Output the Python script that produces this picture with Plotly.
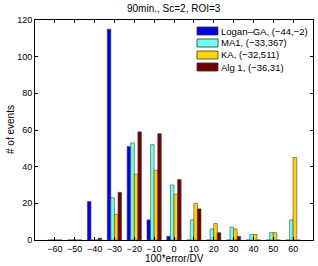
import plotly.graph_objects as go

bins = [-60, -50, -40, -30, -20, -10, 0, 10, 20, 30, 40, 50, 60]
logan = [0, 0, 21, 115, 51, 11, 2, 0, 0, 0, 0, 0, 0]
ma1 = [0, 0, 0, 23, 53, 52, 30, 11, 6, 7, 3, 4, 11]
ka = [0, 0, 0, 14, 36, 38, 25, 20, 9, 6, 3, 4, 45]
alg1 = [0, 0, 1, 26, 59, 58, 33, 17, 4, 2, 0, 0, 0]

names = ["Logan\u2013GA, (\u221244,\u22122)", "MA1, (\u221233,367)", "KA, (\u221232,511)", "Alg 1, (\u221236,31)"]
colors = ["#0000E6", "#73FFEE", "#FFD400", "#730000"]
series = [logan, ma1, ka, alg1]

W, H = 318, 266
L, R, T, B = 35, 5, 20, 26
pw, ph = W - L - R, H - T - B

def px(x):
    return (x - L) / pw

def py(y):
    return (H - B - y) / ph

fig = go.Figure()
for n, c, s in zip(names, colors, series):
    fig.add_trace(go.Bar(x=bins, y=s, name=n, showlegend=False,
                         marker=dict(color=c, line=dict(color="#444444", width=0.6))))

# custom compact legend (MATLAB style)
row_y = [31, 43, 55, 67]
for i, (n, c) in enumerate(zip(names, colors)):
    yc = row_y[i]
    fig.add_shape(type="rect", xref="paper", yref="paper",
                  x0=px(197), x1=px(218), y0=py(yc + 4), y1=py(yc - 4),
                  fillcolor=c, line=dict(color="#333333", width=0.8))
    fig.add_annotation(xref="paper", yref="paper", x=px(219.5), y=py(yc), text=n,
                       showarrow=False, xanchor="left", yanchor="middle", borderpad=0,
                       font=dict(size=9.5, color="black"))

fig.add_annotation(xref="paper", yref="paper", x=px(10), y=0.5, text="# of events",
                   textangle=-90, showarrow=False, xanchor="center", yanchor="middle",
                   font=dict(size=10, color="black"))
fig.add_annotation(xref="paper", yref="paper", x=0.5, y=py(258.5), text="100*error/DV",
                   showarrow=False, xanchor="center", yanchor="middle",
                   font=dict(size=10, color="black"))
fig.add_annotation(xref="paper", yref="paper", x=0.5, y=py(8.5), text="90min., Sc=2, ROI=3",
                   showarrow=False, xanchor="center", yanchor="middle",
                   font=dict(size=10, color="black"))

axis_common = dict(showline=True, linecolor="black", linewidth=0.8, mirror="ticks",
                   ticks="inside", ticklen=3, tickcolor="black", showgrid=False, zeroline=False,
                   tickfont=dict(size=9, color="black"), automargin=False)
fig.update_layout(
    width=W, height=H,
    margin=dict(l=L, r=R, t=T, b=B, pad=0),
    paper_bgcolor="white", plot_bgcolor="white",
    font=dict(family="Liberation Sans, Arial, sans-serif", size=9, color="black"),
    barmode="group", bargap=0.28, bargroupgap=0,
    showlegend=False,
    xaxis=dict(range=[-70, 70], tickvals=bins, **axis_common),
    yaxis=dict(range=[0, 120], tickvals=[0, 20, 40, 60, 80, 100, 120], **axis_common),
)
fig.write_html("out.html", config={"displayModeBar": False})

with open("out.html", "r", encoding="utf-8") as f:
    html = f.read()
html = html.replace("<body>", '<body style="margin:0;padding:0;overflow:hidden">', 1)
with open("out.html", "w", encoding="utf-8") as f:
    f.write(html)
